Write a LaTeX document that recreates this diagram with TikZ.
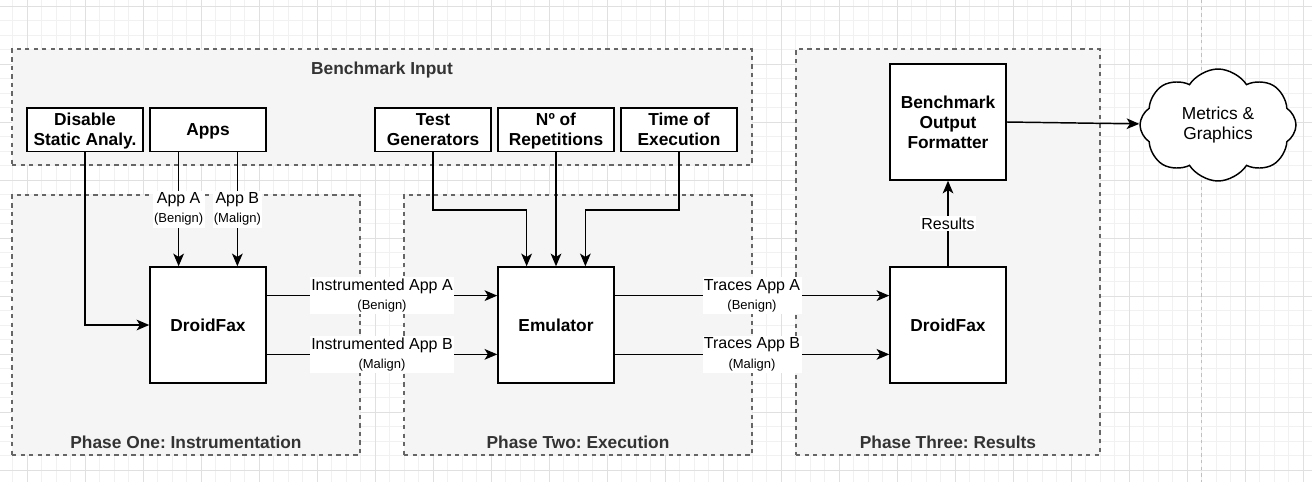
\documentclass[tikz,border=0pt]{standalone}
\usepackage{fontspec}
\setmainfont{Liberation Sans}
\usetikzlibrary{arrows.meta, calc, shapes.symbols}

\definecolor{groupfill}{HTML}{F5F5F5}
\definecolor{groupline}{HTML}{666666}
\definecolor{grouptext}{HTML}{333333}
\definecolor{gridmajor}{HTML}{E0E0E0}
\definecolor{gridminor}{HTML}{F1F1F1}
\definecolor{pageline}{HTML}{C0C0C0}

\newcommand{\labelsub}[1]{{\fontsize{9.75}{12}\selectfont #1}}
\frenchspacing

\begin{document}
\begin{tikzpicture}[x=0.75pt, y=-0.75pt,
        every node/.style={inner sep=0pt},
        group/.style={draw=groupline, fill=groupfill, line width=1pt, dash pattern=on 3.2pt off 3.2pt},
        grouptitle/.style={text=grouptext, font=\fontsize{13}{15}\selectfont\bfseries},
        block/.style={draw, fill=white, line width=1.1pt, minimum width=87pt, align=center, font=\fontsize{13}{15}\selectfont\bfseries},
        inputbox/.style={block, minimum height=32.6pt, text depth=-2pt},
        stagebox/.style={block, minimum height=87pt},
        flow/.style={line width=1.1pt, -{Stealth[length=9.5pt, width=8pt, inset=2.5pt]}},
        flowlabel/.style={fill=white, align=center, inner xsep=1pt, inner ysep=1.5pt, font=\fontsize{12}{14.5}\selectfont}]

    \useasboundingbox (0,0) rectangle (1312,482);

    % background grid
    \foreach \k in {-1,...,88}
        \draw[gridminor, line width=0.75pt] ({27+14.5*\k},0) -- ({27+14.5*\k},482);
    \foreach \k in {0,...,32}
        \draw[gridminor, line width=0.75pt] (0,{6+14.5*\k}) -- (1312,{6+14.5*\k});
    \foreach \k in {0,...,22}
        \draw[gridmajor, line width=0.75pt] ({27+58*\k},0) -- ({27+58*\k},482);
    \foreach \k in {0,...,8}
        \draw[gridmajor, line width=0.75pt] (0,{6+58*\k}) -- (1312,{6+58*\k});
    \draw[pageline, line width=0.75pt, dash pattern=on 2.5pt off 2.5pt] (1201,0) -- (1201,482);

    % groups
    \node[group, minimum width=555pt, minimum height=87pt] (input) at (382,107) {};
    \node[group, minimum width=261pt, minimum height=195pt] (phaseone) at (186,325) {};
    \node[group, minimum width=261pt, minimum height=195pt] (phasetwo) at (578,325) {};
    \node[group, minimum width=228pt, minimum height=304.5pt] (phasethree) at (948,252) {};

    \node[grouptitle] (inputtitle) at (382,70) {Benchmark Input};
    \node[grouptitle] (phaseonetitle) at (186,442) {Phase One: Instrumentation};
    \node[grouptitle] (phasetwotitle) at (578,442) {Phase Two: Execution};
    \node[grouptitle] (phasethreetitle) at (948,442) {Phase Three: Results};

    % inputs
    \node[inputbox] (disable) at (85,129.5) {Disable\\Static Analy.};
    \node[inputbox] (apps) at (208,129.5) {Apps};
    \node[inputbox] (testgen) at (433,129.5) {Test\\Generators};
    \node[inputbox] (reps) at (556,129.5) {Nº of\\Repetitions};
    \node[inputbox] (exectime) at (679,129.5) {Time of\\Execution};

    % stages
    \node[stagebox] (droidone) at (208,325) {DroidFax};
    \node[stagebox] (emulator) at (556,325) {Emulator};
    \node[stagebox] (droidtwo) at (948,325) {DroidFax};
    \node[stagebox] (formatter) at (948,122) {Benchmark\\Output\\Formatter};
    \node[draw, fill=white, line width=1.1pt, cloud, cloud puffs=8, cloud puff arc=115, cloud ignores aspect,
        minimum width=117pt, minimum height=84pt, align=center, font=\fontsize{13}{15}\selectfont]
        (metrics) at (1218,125) {Metrics \&\\Graphics};

    % phase one
    \draw[flow] (disable.south) |- (droidone.west);
    \draw[flow] ($(apps.south west)!.25!(apps.south east)$) -- ($(droidone.north west)!.25!(droidone.north east)$)
        node[flowlabel, midway] {App A\\\labelsub{(Benign)}};
    \draw[flow] ($(apps.south west)!.75!(apps.south east)$) -- ($(droidone.north west)!.75!(droidone.north east)$)
        node[flowlabel, midway] {App B\\\labelsub{(Malign)}};
    \draw[flow] ($(droidone.north east)!.25!(droidone.south east)$) -- ($(emulator.north west)!.25!(emulator.south west)$)
        node[flowlabel, midway] {Instrumented App A\\\labelsub{(Benign)}};
    \draw[flow] ($(droidone.north east)!.75!(droidone.south east)$) -- ($(emulator.north west)!.75!(emulator.south west)$)
        node[flowlabel, midway] {Instrumented App B\\\labelsub{(Malign)}};

    % phase two
    \draw[flow] (testgen.south) -- ++(0,58) -| ($(emulator.north west)!.25!(emulator.north east)$);
    \draw[flow] (reps.south) -- (emulator.north);
    \draw[flow] (exectime.south) -- ++(0,58) -| ($(emulator.north west)!.75!(emulator.north east)$);
    \draw[flow] ($(emulator.north east)!.25!(emulator.south east)$) -- ($(droidtwo.north west)!.25!(droidtwo.south west)$)
        node[flowlabel, midway] {Traces App A\\\labelsub{(Benign)}};
    \draw[flow] ($(emulator.north east)!.75!(emulator.south east)$) -- ($(droidtwo.north west)!.75!(droidtwo.south west)$)
        node[flowlabel, midway] {Traces App B\\\labelsub{(Malign)}};

    % phase three
    \draw[flow] (droidtwo.north) -- (formatter.south)
        node[flowlabel, midway] {Results};
    \draw[flow] (formatter.east) -- (metrics);
\end{tikzpicture}
\end{document}
